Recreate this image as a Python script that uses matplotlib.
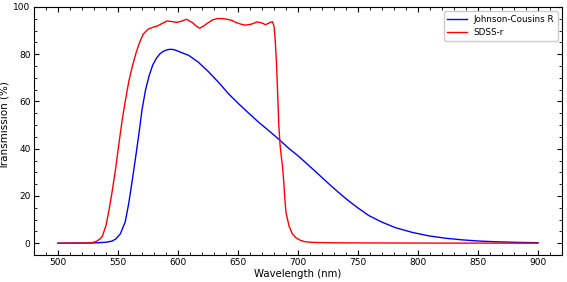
import numpy as np
import matplotlib
matplotlib.use("Agg")
import matplotlib.pyplot as plt
from matplotlib.ticker import AutoMinorLocator

# Johnson-Cousins R
jc_wl = [500, 530, 540, 545, 548, 552, 556, 559, 562, 565, 568, 570, 573, 576,
         579, 582, 585, 588, 591, 594, 597, 601, 609, 617, 625, 634, 642, 651,
         659, 667, 676, 684, 692, 701, 709, 717, 726, 734, 742, 750, 759, 770,
         781, 795, 809, 823, 837, 851, 865, 882, 900]
jc_tr = [0.0, 0.1, 0.4, 0.9, 1.7, 4.0, 9.0, 17.0, 27.0, 37.5, 48.5, 56.5, 65.0, 71.0,
         75.5, 78.3, 80.2, 81.3, 81.9, 82.1, 81.9, 81.1, 79.5, 76.6, 72.8, 68.0, 63.3, 58.8,
         55.0, 51.3, 47.5, 44.0, 40.3, 36.6, 32.9, 29.2, 25.0, 21.4, 18.0, 14.9, 11.7, 8.9,
         6.6, 4.6, 3.1, 2.1, 1.4, 0.9, 0.6, 0.35, 0.2]

# SDSS-r
sd_wl = [500, 525, 529, 532, 535, 537, 540, 542.5, 545, 548, 551, 553.6, 556, 559,
         562, 565, 568, 571, 575, 579, 583, 587, 591, 595, 599, 603, 607, 612,
         615, 618, 621, 625, 629, 633, 637, 641, 645, 648, 652, 656, 661, 666,
         670, 673, 676, 678.6, 680, 681, 682, 683, 684, 685, 686, 687, 688, 689,
         690, 692.5, 695, 698, 702, 706, 712, 720, 735, 760, 800, 900]
sd_tr = [0.0, 0.1, 0.3, 0.8, 1.8, 3.0, 7.5, 14.0, 21.5, 31.5, 43.0, 52.5, 60.0, 68.5,
         75.0, 80.5, 85.0, 88.5, 90.6, 91.4, 92.0, 93.1, 94.1, 93.8, 93.5, 94.0, 94.8, 93.4,
         92.0, 91.0, 91.8, 93.3, 94.6, 95.1, 95.1, 94.8, 94.3, 93.5, 92.8, 92.3, 92.7, 93.7,
         93.2, 92.5, 93.3, 93.8, 92.0, 86.0, 77.0, 64.0, 50.0, 42.0, 37.0, 33.0, 27.0, 19.0,
         13.0, 7.3, 4.2, 2.4, 1.2, 0.6, 0.35, 0.25, 0.15, 0.1, 0.05, 0.0]

fig = plt.figure(figsize=(5.67, 2.82), dpi=100)
ax = fig.add_axes([34/567, 27/282, 528/567, 248/282])

ax.plot(jc_wl, jc_tr, color='blue', lw=1.0, label='Johnson-Cousins R')
ax.plot(sd_wl, sd_tr, color='red', lw=1.0, label='SDSS-r')

ax.set_xlim(480, 920)
ax.set_ylim(-5, 100)
ax.set_xticks(np.arange(500, 901, 50))
ax.set_yticks(np.arange(0, 101, 20))
ax.xaxis.set_minor_locator(AutoMinorLocator(5))
ax.yaxis.set_minor_locator(AutoMinorLocator(4))
ax.tick_params(which='both', direction='in', top=True, right=True, labelsize=6.5)
ax.tick_params(which='major', length=3.5, width=0.8, pad=2.5)
ax.tick_params(which='minor', length=2, width=0.6)
for sp in ax.spines.values():
    sp.set_linewidth(0.8)

ax.set_xlabel('Wavelength (nm)', fontsize=7.3, labelpad=1)
ax.set_ylabel('Transmission (%)', fontsize=7.5)
ax.yaxis.set_label_coords(-0.047, 0.52)
ax.legend(loc='upper right', fontsize=6.3, handlelength=2.2, framealpha=1)

fig.savefig('out.png', dpi=100, facecolor='white')
